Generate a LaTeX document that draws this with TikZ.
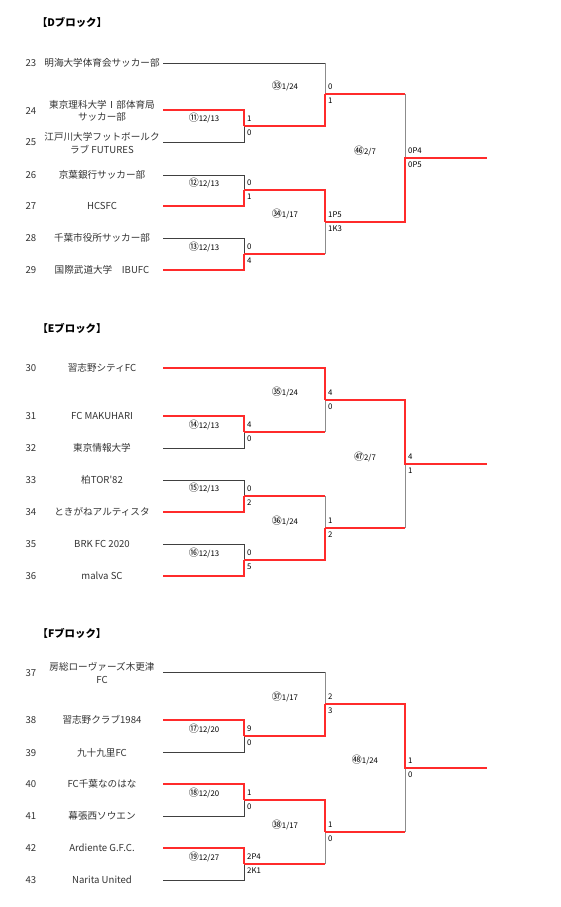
\documentclass[tikz,border=0pt]{standalone}
\usepackage{fontspec}
\setmainfont{Noto Sans CJK JP}
\usetikzlibrary{positioning}
\definecolor{bkink}{HTML}{333333}
\definecolor{bkline}{HTML}{404040}
\definecolor{bkgray}{HTML}{8C8C8C}
\definecolor{bkred}{HTML}{FF2B2B}
\newcommand\matchno[1]{{\fontsize{10}{8}\selectfont#1}}
\tikzset{
  blocktitle/.style={font=\fontsize{10.4}{12}\selectfont\bfseries, text=black, inner sep=0pt},
  seedno/.style={font=\fontsize{9.6}{11}\selectfont, text=bkink, inner sep=0pt},
  teamname/.style={font=\fontsize{9.6}{12.5}\selectfont, text=bkink, align=center, inner sep=0pt},
  score/.style={font=\fontsize{7.8}{8}\selectfont, text=black, inner sep=1pt,
    text height=5.5pt, text depth=0pt},
  datelabel/.style={font=\fontsize{7.8}{8}\selectfont, text=black, inner sep=0pt},
  lostline/.style={draw=bkline, line width=0.8pt},
  lostvert/.style={draw=bkgray, line width=0.9pt},
  wonline/.style={draw=bkred, line width=1.6pt},
}

\begin{document}
\begin{tikzpicture}[x=1pt, y=-1pt]
\useasboundingbox (0,0) rectangle (560,907);

% D block: teams.
\node[blocktitle] (titleD) at (72,22) {【Dブロック】};
\node[seedno] (n23) at (31,63) {23};
\node[teamname] (t23) at (102,63) {明海大学体育会サッカー部};
\node[seedno] (n24) at (31,111) {24};
\node[teamname] (t24) at (102,111) {東京理科大学Ⅰ部体育局\\サッカー部};
\node[seedno] (n25) at (31,142) {25};
\node[teamname] (t25) at (102,143) {江戸川大学フットボールク\\ラブ FUTURES};
\node[seedno] (n26) at (31,175) {26};
\node[teamname] (t26) at (102,175) {京葉銀行サッカー部};
\node[seedno] (n27) at (31,206) {27};
\node[teamname] (t27) at (102,206) {HCSFC};
\node[seedno] (n28) at (31,238) {28};
\node[teamname] (t28) at (102,238) {千葉市役所サッカー部};
\node[seedno] (n29) at (31,270) {29};
\node[teamname] (t29) at (102,270) {国際武道大学　IBUFC};

\coordinate (e23) at (163,63);
\coordinate (e24) at (163,110);
\coordinate (e25) at (163,142);
\coordinate (e26) at (163,175);
\coordinate (e27) at (163,206);
\coordinate (e28) at (163,238);
\coordinate (e29) at (163,270);
\coordinate (m11) at (244,126);
\coordinate (m12) at (244,190);
\coordinate (m13) at (244,254);
\coordinate (m33) at (325,94);
\coordinate (m34) at (325,222);
\coordinate (m46) at (405,158);
\coordinate (wD) at (487,158);

% D block: bracket.
\draw[lostline] (e25) -| (m11);
\draw[lostline] (e26) -| (m12);
\draw[lostline] (e28) -| (m13);
\draw[lostline] (e23) -- (e23 -| m33);
\draw[lostvert] (e23 -| m33) -- (m33);
\draw[lostvert] (m13 -| m34) -- (m34);
\draw[lostvert] (m33 -| m46) -- (m46);
\draw[wonline] (e24) -| (m11);
\draw[wonline] (e27) -| (m12);
\draw[wonline] (e29) -| (m13);
\draw[wonline] (m11) -| (m33);
\draw[wonline] (m12) -| (m34);
\draw[wonline] (m13) -- (m13 -| m34);
\draw[wonline] (m33) -- (m33 -| m46);
\draw[wonline] (m34) -| (m46) -- (wD);

% D block: dates and scores.
\node[datelabel] (d11) at (204,118) {\matchno{⑪}12/13};
\node[datelabel] (d12) at (204,183) {\matchno{⑫}12/13};
\node[datelabel] (d13) at (204,247) {\matchno{⑬}12/13};
\node[datelabel] (d33) at (285,86) {\matchno{㉝}1/24};
\node[datelabel] (d34) at (285,214) {\matchno{㉞}1/17};
\node[datelabel] (d46) at (365,151) {\matchno{㊻}2/7};
\node[score, above right=3pt and 2pt of m11] (s11t) {1};
\node[score, below right=3pt and 2pt of m11] (s11b) {0};
\node[score, above right=3pt and 2pt of m12] (s12t) {0};
\node[score, below right=3pt and 2pt of m12] (s12b) {1};
\node[score, above right=3pt and 2pt of m13] (s13t) {0};
\node[score, below right=3pt and 2pt of m13] (s13b) {4};
\node[score, above right=3pt and 2pt of m33] (s33t) {0};
\node[score, below right=3pt and 2pt of m33] (s33b) {1};
\node[score, above right=3pt and 2pt of m34] (s34t) {1P5};
\node[score, below right=3pt and 2pt of m34] (s34b) {1K3};
\node[score, above right=3pt and 2pt of m46] (s46t) {0P4};
\node[score, below right=3pt and 2pt of m46] (s46b) {0P5};

% E block: teams.
\node[blocktitle] (titleE) at (72,328) {【Eブロック】};
\node[seedno] (n30) at (31,368) {30};
\node[teamname] (t30) at (102,368) {習志野シティFC};
\node[seedno] (n31) at (31,416) {31};
\node[teamname] (t31) at (102,416) {FC MAKUHARI};
\node[seedno] (n32) at (31,448) {32};
\node[teamname] (t32) at (102,448) {東京情報大学};
\node[seedno] (n33) at (31,480) {33};
\node[teamname] (t33) at (102,480) {柏TOR\textquotesingle82};
\node[seedno] (n34) at (31,512) {34};
\node[teamname] (t34) at (102,512) {ときがねアルティスタ};
\node[seedno] (n35) at (31,544) {35};
\node[teamname] (t35) at (102,544) {BRK FC 2020};
\node[seedno] (n36) at (31,576) {36};
\node[teamname] (t36) at (102,576) {malva SC};

\coordinate (e30) at (163,368);
\coordinate (e31) at (163,416);
\coordinate (e32) at (163,448);
\coordinate (e33) at (163,480);
\coordinate (e34) at (163,512);
\coordinate (e35) at (163,544);
\coordinate (e36) at (163,576);
\coordinate (m14) at (244,432);
\coordinate (m15) at (244,496);
\coordinate (m16) at (244,560);
\coordinate (m35) at (325,400);
\coordinate (m36) at (325,528);
\coordinate (m47) at (405,464);
\coordinate (wE) at (487,464);

% E block: bracket.
\draw[lostline] (e32) -| (m14);
\draw[lostline] (e33) -| (m15);
\draw[lostline] (e35) -| (m16);
\draw[lostvert] (m14 -| m35) -- (m35);
\draw[lostvert] (m15 -| m36) -- (m36);
\draw[lostvert] (m36 -| m47) -- (m47);
\draw[wonline] (e31) -| (m14);
\draw[wonline] (e34) -| (m15);
\draw[wonline] (e36) -| (m16);
\draw[wonline] (e30) -| (m35);
\draw[wonline] (m14) -- (m14 -| m35);
\draw[wonline] (m15) -- (m15 -| m36);
\draw[wonline] (m16) -| (m36);
\draw[wonline] (m36) -- (m36 -| m47);
\draw[wonline] (m35) -| (m47) -- (wE);

% E block: dates and scores.
\node[datelabel] (d14) at (204,425) {\matchno{⑭}12/13};
\node[datelabel] (d15) at (204,488) {\matchno{⑮}12/13};
\node[datelabel] (d16) at (204,553) {\matchno{⑯}12/13};
\node[datelabel] (d35) at (285,392) {\matchno{㉟}1/24};
\node[datelabel] (d36) at (285,521) {\matchno{㊱}1/24};
\node[datelabel] (d47) at (365,457) {\matchno{㊼}2/7};
\node[score, above right=3pt and 2pt of m14] (s14t) {4};
\node[score, below right=3pt and 2pt of m14] (s14b) {0};
\node[score, above right=3pt and 2pt of m15] (s15t) {0};
\node[score, below right=3pt and 2pt of m15] (s15b) {2};
\node[score, above right=3pt and 2pt of m16] (s16t) {0};
\node[score, below right=3pt and 2pt of m16] (s16b) {5};
\node[score, above right=3pt and 2pt of m35] (s35t) {4};
\node[score, below right=3pt and 2pt of m35] (s35b) {0};
\node[score, above right=3pt and 2pt of m36] (s36t) {1};
\node[score, below right=3pt and 2pt of m36] (s36b) {2};
\node[score, above right=3pt and 2pt of m47] (s47t) {4};
\node[score, below right=3pt and 2pt of m47] (s47b) {1};

% F block: teams.
\node[blocktitle] (titleF) at (72,633) {【Fブロック】};
\node[seedno] (n37) at (31,673) {37};
\node[teamname] (t37) at (102,673) {房総ローヴァーズ木更津\\FC};
\node[seedno] (n38) at (31,720) {38};
\node[teamname] (t38) at (102,720) {習志野クラブ1984};
\node[seedno] (n39) at (31,753) {39};
\node[teamname] (t39) at (102,753) {九十九里FC};
\node[seedno] (n40) at (31,784) {40};
\node[teamname] (t40) at (102,784) {FC千葉なのはな};
\node[seedno] (n41) at (31,816) {41};
\node[teamname] (t41) at (102,816) {幕張西ソウエン};
\node[seedno] (n42) at (31,848) {42};
\node[teamname] (t42) at (102,848) {Ardiente G.F.C.};
\node[seedno] (n43) at (31,880) {43};
\node[teamname] (t43) at (102,880) {Narita United};

\coordinate (e37) at (163,672);
\coordinate (e38) at (163,720);
\coordinate (e39) at (163,752);
\coordinate (e40) at (163,784);
\coordinate (e41) at (163,816);
\coordinate (e42) at (163,848);
\coordinate (e43) at (163,880);
\coordinate (m17) at (244,736);
\coordinate (m18) at (244,800);
\coordinate (m19) at (244,864);
\coordinate (m37) at (325,704);
\coordinate (m38) at (325,832);
\coordinate (m48) at (405,768);
\coordinate (wF) at (487,768);

% F block: bracket.
\draw[lostline] (e39) -| (m17);
\draw[lostline] (e41) -| (m18);
\draw[lostline] (e43) -| (m19);
\draw[lostline] (e37) -- (e37 -| m37);
\draw[lostvert] (e37 -| m37) -- (m37);
\draw[lostvert] (m19 -| m38) -- (m38);
\draw[lostvert] (m38 -| m48) -- (m48);
\draw[wonline] (e38) -| (m17);
\draw[wonline] (e40) -| (m18);
\draw[wonline] (e42) -| (m19);
\draw[wonline] (m17) -| (m37);
\draw[wonline] (m18) -| (m38);
\draw[wonline] (m19) -- (m19 -| m38);
\draw[wonline] (m38) -- (m38 -| m48);
\draw[wonline] (m37) -| (m48) -- (wF);

% F block: dates and scores.
\node[datelabel] (d17) at (204,729) {\matchno{⑰}12/20};
\node[datelabel] (d18) at (204,793) {\matchno{⑱}12/20};
\node[datelabel] (d19) at (204,857) {\matchno{⑲}12/27};
\node[datelabel] (d37) at (285,697) {\matchno{㊲}1/17};
\node[datelabel] (d38) at (285,825) {\matchno{㊳}1/17};
\node[datelabel] (d48) at (365,760) {\matchno{㊽}1/24};
\node[score, above right=3pt and 2pt of m17] (s17t) {9};
\node[score, below right=3pt and 2pt of m17] (s17b) {0};
\node[score, above right=3pt and 2pt of m18] (s18t) {1};
\node[score, below right=3pt and 2pt of m18] (s18b) {0};
\node[score, above right=3pt and 2pt of m19] (s19t) {2P4};
\node[score, below right=3pt and 2pt of m19] (s19b) {2K1};
\node[score, above right=3pt and 2pt of m37] (s37t) {2};
\node[score, below right=3pt and 2pt of m37] (s37b) {3};
\node[score, above right=3pt and 2pt of m38] (s38t) {1};
\node[score, below right=3pt and 2pt of m38] (s38b) {0};
\node[score, above right=3pt and 2pt of m48] (s48t) {1};
\node[score, below right=3pt and 2pt of m48] (s48b) {0};

\end{tikzpicture}
\end{document}
